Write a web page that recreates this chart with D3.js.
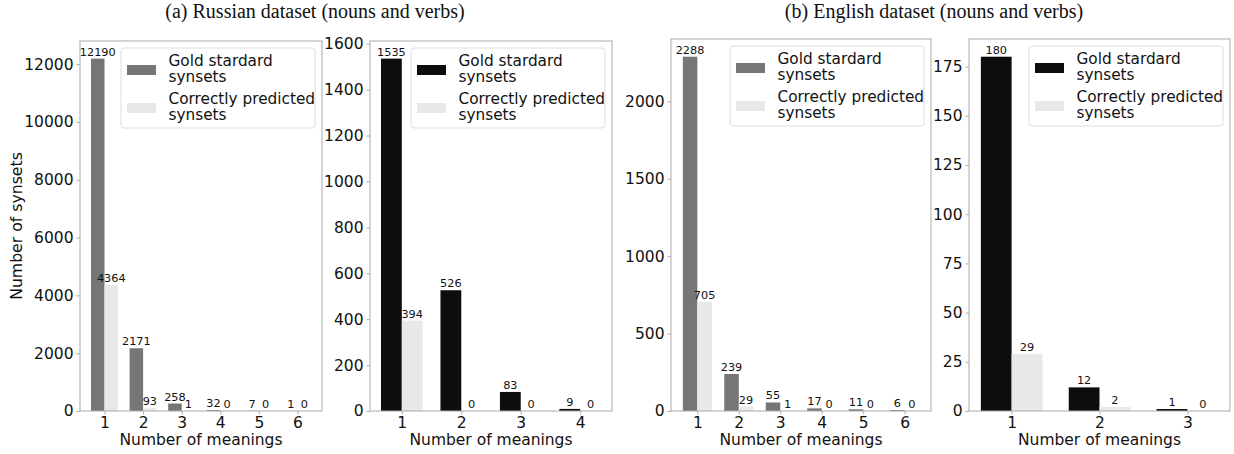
<!DOCTYPE html>
<html>
<head>
<meta charset="utf-8">
<script src="https://cdn.jsdelivr.net/npm/d3@7"></script>
<style>
  body { margin: 0; background: #fff; }
  svg { display: block; }
</style>
</head>
<body>
<svg width="1234" height="454"></svg>
<script>
// data
const ruAllCats = [1, 2, 3, 4, 5, 6]
const ruAllGold = [12190, 2171, 258, 32, 7, 1]
const ruAllPred = [4364, 93, 1, 0, 0, 0]
const ruAllTicks = [0, 2000, 4000, 6000, 8000, 10000, 12000]

const ruSubCats = [1, 2, 3, 4]
const ruSubGold = [1535, 526, 83, 9]
const ruSubPred = [394, 0, 0, 0]
const ruSubTicks = [0, 200, 400, 600, 800, 1000, 1200, 1400, 1600]

const enAllCats = [1, 2, 3, 4, 5, 6]
const enAllGold = [2288, 239, 55, 17, 11, 6]
const enAllPred = [705, 29, 1, 0, 0, 0]
const enAllTicks = [0, 500, 1000, 1500, 2000]

const enSubCats = [1, 2, 3]
const enSubGold = [180, 12, 1]
const enSubPred = [29, 2, 0]
const enSubTicks = [0, 25, 50, 75, 100, 125, 150, 175]

const legendLabels = [['Gold stardard', 'synsets'], ['Correctly predicted', 'synsets']]
const titles = ['(a) Russian dataset (nouns and verbs)', '(b) English dataset (nouns and verbs)']

const svg = d3.select('svg')
const font = 'DejaVu Sans, sans-serif'
const lightColor = '#e8e8e8'
const barW = 0.35
const fs = 15.5

const panels = [
  {cats: ruAllCats, gold: ruAllGold, pred: ruAllPred, ticks: ruAllTicks, x0: 80, x1: 322, top: 41, color: '#767676', ylabel: true},
  {cats: ruSubCats, gold: ruSubGold, pred: ruSubPred, ticks: ruSubTicks, x0: 370, x1: 612, top: 41, color: '#0d0d0d'},
  {cats: enAllCats, gold: enAllGold, pred: enAllPred, ticks: enAllTicks, x0: 671, x1: 931, top: 39, color: '#767676'},
  {cats: enSubCats, gold: enSubGold, pred: enSubPred, ticks: enSubTicks, x0: 969, x1: 1230, top: 39, color: '#0d0d0d'}
]
const bottom = 411

function drawPanel(p) {
  const n = p.cats.length
  const lo = p.cats[0] - barW, hi = p.cats[n - 1] + barW
  const pad = (hi - lo) * 0.05
  const x = d3.scaleLinear().domain([lo - pad, hi + pad]).range([p.x0, p.x1])
  const ymax = d3.max(p.gold) * 1.05
  const y = d3.scaleLinear().domain([0, ymax]).range([bottom, p.top])

  const g = svg.append('g')

  // bars
  g.selectAll('.gold').data(p.cats).join('rect')
    .attr('x', (d) => x(d - barW)).attr('width', (d) => x(d) - x(d - barW))
    .attr('y', (d, i) => y(p.gold[i])).attr('height', (d, i) => bottom - y(p.gold[i]))
    .attr('fill', p.color)
  g.selectAll('.pred').data(p.cats).join('rect')
    .attr('x', (d) => x(d)).attr('width', (d) => x(d + barW) - x(d))
    .attr('y', (d, i) => y(p.pred[i])).attr('height', (d, i) => bottom - y(p.pred[i]))
    .attr('fill', lightColor)

  // value labels
  const lab = (vals, off) => g.selectAll(null).data(p.cats).join('text')
    .attr('x', (d) => x(d + off)).attr('y', (d, i) => y(vals[i]) - 3)
    .attr('text-anchor', 'middle').attr('font-family', font).attr('font-size', 11.3)
    .attr('fill', '#111').text((d, i) => vals[i])
  lab(p.gold, -barW / 2)
  lab(p.pred, barW / 2)

  // axes
  const yAxis = d3.axisLeft(y).tickValues(p.ticks).tickSize(3.5).tickPadding(3).tickFormat(d3.format('d'))
  const ya = g.append('g').attr('transform', `translate(${p.x0},0)`).call(yAxis)
  const xAxis = d3.axisBottom(x).tickValues(p.cats).tickSize(3.5).tickPadding(2).tickFormat(d3.format('d'))
  const xa = g.append('g').attr('transform', `translate(0,${bottom})`).call(xAxis)
  for (const a of [ya, xa]) {
    a.select('.domain').remove()
    a.selectAll('line').attr('stroke', '#999').attr('stroke-width', 0.8)
    a.selectAll('text').attr('font-family', font).attr('font-size', fs).attr('fill', '#111')
  }

  // frame
  g.append('rect').attr('x', p.x0).attr('y', p.top).attr('width', p.x1 - p.x0).attr('height', bottom - p.top)
    .attr('fill', 'none').attr('stroke', '#aaa').attr('stroke-width', 1)

  g.append('text').attr('x', (p.x0 + p.x1) / 2).attr('y', 445)
    .attr('text-anchor', 'middle').attr('font-family', font).attr('font-size', fs).attr('fill', '#111')
    .text('Number of meanings')

  if (p.ylabel) {
    g.append('text').attr('transform', `translate(22,${(p.top + bottom) / 2}) rotate(-90)`)
      .attr('text-anchor', 'middle').attr('font-family', font).attr('font-size', fs + 0.2).attr('fill', '#111')
      .text('Number of synsets')
  }

  // legend
  const lw = 194, lh = 80
  const lx = p.x1 - 7 - lw, ly = p.top + 7
  const leg = g.append('g').attr('transform', `translate(${lx},${ly})`)
  leg.append('rect').attr('width', lw).attr('height', lh).attr('rx', 3)
    .attr('fill', 'rgba(255,255,255,0.8)').attr('stroke', '#ddd')
  const colors = [p.color, lightColor]
  legendLabels.forEach((lines, i) => {
    const cy = 22 + i * 38
    leg.append('rect').attr('x', 6).attr('y', cy - 5).attr('width', 29).attr('height', 10).attr('fill', colors[i])
    lines.forEach((t, j) => {
      leg.append('text').attr('x', 47.5).attr('y', cy - 4.5 + j * 16)
        .attr('font-family', font).attr('font-size', 15.3).attr('fill', '#111').text(t)
    })
  })
}

panels.forEach(drawPanel)

svg.selectAll('.title').data(titles).join('text')
  .attr('x', (d, i) => [315, 934][i]).attr('y', 18)
  .attr('text-anchor', 'middle').attr('font-family', 'Liberation Serif, serif').attr('font-size', 20)
  .attr('fill', '#111').text((d) => d)
</script>
</body>
</html>
